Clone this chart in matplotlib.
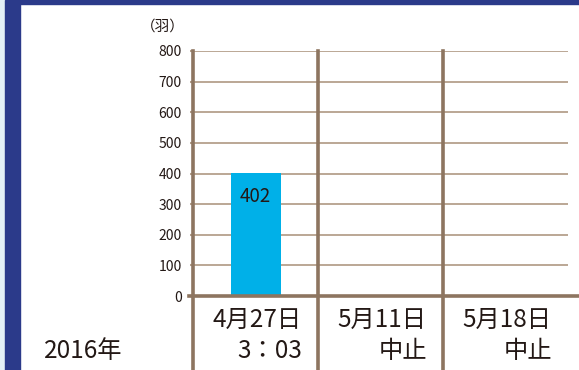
import matplotlib
matplotlib.use("Agg")
import matplotlib.pyplot as plt
from matplotlib.patches import Rectangle

plt.rcParams['font.family'] = ['Noto Sans CJK JP', 'DejaVu Sans']

categories = ["4月27日\n3：03", "5月11日\n中止", "5月18日\n中止"]
values = [402, None, None]
bar_labels = ["402", "", ""]
yticks = [0, 100, 200, 300, 400, 500, 600, 700, 800]
unit_label = "（羽）"
year_label = "2016年"

W, H = 579, 370
fig = plt.figure(figsize=(W / 100, H / 100), dpi=100)
fig.patch.set_facecolor("white")

# frame decorations
fig.patches.append(Rectangle((0, 0), 5 / W, 1, transform=fig.transFigure, color="#e4f0f6", zorder=0))
fig.patches.append(Rectangle((5 / W, 0), 15 / W, 1, transform=fig.transFigure, color="#2b3a8a", zorder=0))
fig.patches.append(Rectangle((20 / W, 1 - 4 / H), 1, 4 / H, transform=fig.transFigure, color="#2b3a8a", zorder=0))

x0, x1 = 193, 568
y0, y1 = 296, 51
ax = fig.add_axes([x0 / W, (H - y0) / H, (x1 - x0) / W, (y0 - y1) / H])
ax.set_xlim(0, 3)
ax.set_ylim(0, 800)
for s in ax.spines.values():
    s.set_visible(False)
ax.set_facecolor("none")

line_c = "#8d7560"
grid_c = "#b5a08c"

for t in yticks[1:]:
    ax.axhline(t, xmin=0, xmax=1, color=grid_c, lw=1.3, zorder=1)

bottom_frac = -(H - y0) / (y0 - y1)
for i in range(3):
    ax.axvline(i, ymin=bottom_frac, ymax=1, color=line_c, lw=2.6, clip_on=False, zorder=3)
ax.axhline(0, xmin=-0.01, xmax=(W - x0) / (x1 - x0), color=line_c, lw=2.6, clip_on=False, zorder=3)

xs = [i + 0.5 for i in range(len(categories))]
for x, v, lab in zip(xs, values, bar_labels):
    if v is not None:
        ax.bar(x, v, width=0.4, color="#00b0e8", zorder=2)
        ax.text(x, v - 42, lab, ha="center", va="top", fontsize=13.5, color="#231815", zorder=4)

ax.set_yticks(yticks)
ax.set_yticklabels([str(t) for t in yticks], fontsize=10, color="#231815")
ax.tick_params(axis="y", length=2, width=1.5, color=grid_c, pad=6)
ax.set_xticks([])

for i, cat in enumerate(categories):
    ax.text(i + 0.87, -36, cat, ha="right", va="top", fontsize=17.5, color="#231815",
            linespacing=1.25, clip_on=False)

fig.text(185 / W, 1 - 27 / H, unit_label, ha="right", va="center", fontsize=10.5, color="#231815")
fig.text(44 / W, 1 - 351 / H, year_label, ha="left", va="center", fontsize=17.5, color="#231815")

fig.savefig("out.png", dpi=100)
